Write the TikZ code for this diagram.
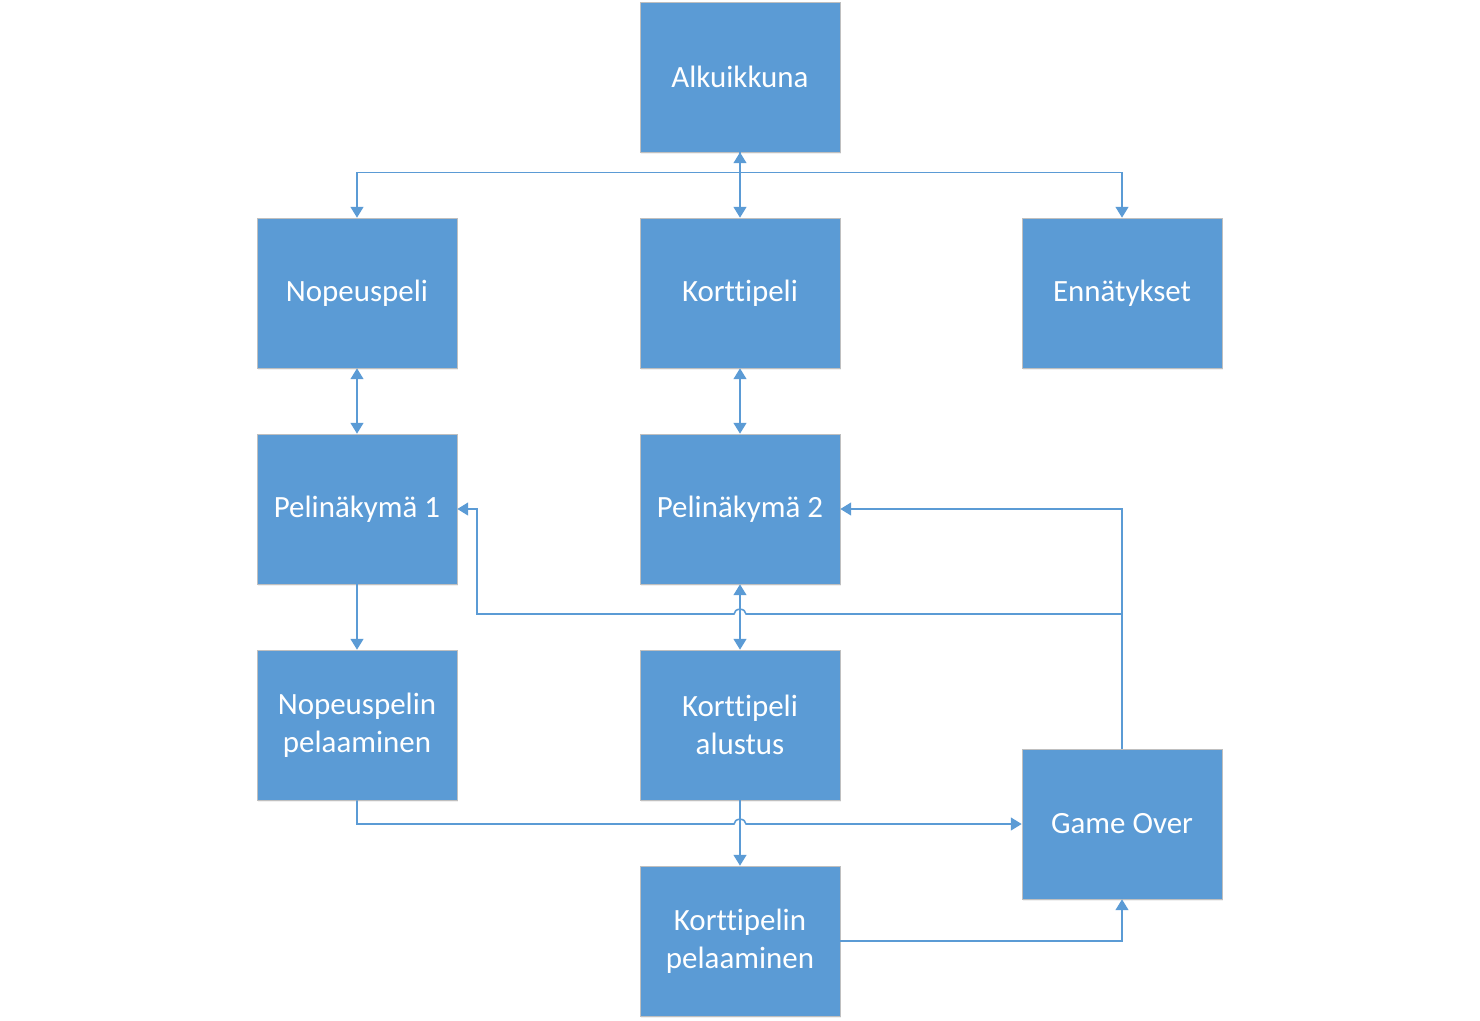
\documentclass[tikz,border=0pt]{standalone}
\usepackage{fontspec}
\setmainfont{Carlito}[Ligatures=NoCommon]
\usetikzlibrary{positioning,arrows.meta,shadows}
\definecolor{boxblue}{HTML}{5B9BD5}
\definecolor{boxedge}{HTML}{BFBFBF}

\begin{document}
\begin{tikzpicture}[x=0.025cm,y=-0.025cm,
    box/.style={rectangle,fill=boxblue,draw=boxedge,line width=0.4pt,
        minimum width=5cm,minimum height=3.75cm,text=white,align=center,
        font=\fontsize{22}{27}\selectfont,
        drop shadow={opacity=0.12,shadow xshift=0.6pt,shadow yshift=-1.2pt}},
    conn/.style={draw=boxblue,line width=1.1pt,
        -{Triangle[length=0.27cm,width=0.32cm]}},
    both/.style={conn,{Triangle[length=0.27cm,width=0.32cm]}-{Triangle[length=0.27cm,width=0.32cm]}}]
\useasboundingbox (0,0) rectangle (1480,1020);
%Nodes
    \node[box] (alku) at (740,77) {Alkuikkuna};
    \node[box] (nopeus) at (357,293) {Nopeuspeli};
    \node[box] (kortti) at (740,293) {Korttipeli};
    \node[box] (ennat) at (1122,293) {Ennätykset};
    \node[box] (peli1) at (357,509) {Pelinäkymä 1};
    \node[box] (peli2) at (740,509) {Pelinäkymä 2};
    \node[box] (nopeuspel) at (357,725) {Nopeuspelin\\pelaaminen};
    \node[box] (alustus) at (740,725) {Korttipeli\\alustus};
    \node[box] (over) at (1122,824) {Game Over};
    \node[box] (korttipel) at (740,941) {Korttipelin\\pelaaminen};

%Connectors
    \draw[conn] (alku.south) -- ++(0,20) -| (nopeus.north);
    \draw[conn] (alku.south) -- ++(0,20) -| (ennat.north);
    \draw[both] (alku.south) -- (kortti.north);
    \draw[both] (nopeus.south) -- (peli1.north);
    \draw[both] (kortti.south) -- (peli2.north);
    \draw[conn] (peli1.south) -- (nopeuspel.north);
    \draw[both] (peli2.south) -- (alustus.north);
    \draw[conn] (alustus.south) -- (korttipel.north);
    \coordinate (jog) at (477,614);
    \draw[conn] (over.north) -- (over.north |- jog) -- (746,614)
        arc[start angle=0,end angle=180,x radius=0.15cm,y radius=0.12cm]
        -- (jog) |- (peli1.east);
    \draw[conn] (over.north) |- (peli2.east);
    \draw[conn] (nopeuspel.south) -- (357,824) -- (734,824)
        arc[start angle=180,end angle=0,x radius=0.15cm,y radius=0.12cm]
        -- (over.west);
    \draw[conn] (korttipel.east) -| (over.south);
\end{tikzpicture}
\end{document}
